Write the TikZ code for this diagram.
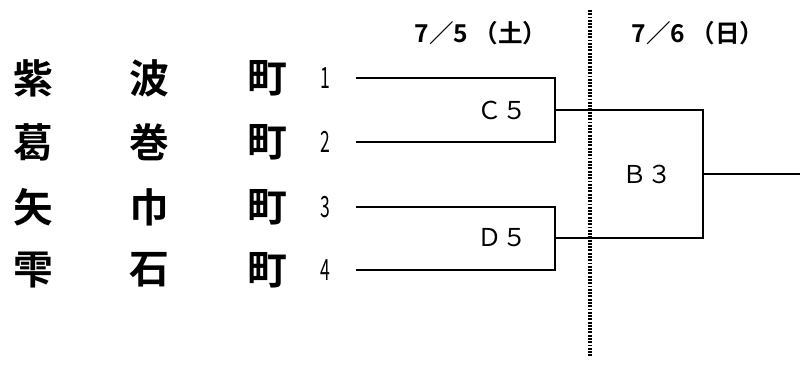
\documentclass[tikz,border=0pt]{standalone}
\usepackage{fontspec}
\newfontfamily\jpfont{Noto Sans CJK JP}
\newfontfamily\jpbold{Noto Sans CJK JP Bold}
\usetikzlibrary{positioning}
\tikzset{
  town/.style={font=\jpbold\fontsize{34}{34}\selectfont, inner sep=0pt},
  seed/.style={font=\jpfont\fontsize{25}{25}\selectfont, inner sep=0pt, xscale=0.6},
  game/.style={font=\jpfont\fontsize{21}{21}\selectfont, inner sep=0pt},
  day/.style={font=\jpbold\fontsize{21}{21}\selectfont, inner sep=0pt},
  bracket/.style={line width=2.3pt}
}
\begin{document}
\begin{tikzpicture}[x=0.03cm,y=-0.03cm]
\useasboundingbox (0,0) rectangle (800,365);
% dates
\node[day] (sat) at (481,33) {7／5 （土）};
\node[day] (sun) at (698,33) {7／6 （日）};
\draw[line width=2.6pt, dash pattern=on 1.6pt off 1.2pt] (590,10) coordinate (split top) -- (590,357) coordinate (split bottom);
% teams
\foreach \i/\a/\b/\y in {1/紫/波/78, 2/葛/巻/142, 3/矢/巾/207, 4/雫/石/270}{
  \node[town] (first\i) at (33,\y) {\a};
  \node[town] (second\i) at (149,\y) {\b};
  \node[town] (cho\i) at (267,\y) {町};
  \node[seed] (seed\i) at (325,\y) {\i};
  \coordinate (in\i) at (356,\y);
}
% first round (7/5)
\draw[bracket] (in1) -- (555,78) -- (555,142) -- (in2);
\draw[bracket] (in3) -- (555,207) -- (555,270) -- (in4);
\coordinate (c5) at (555,110);
\coordinate (d5) at (555,238);
\node[game, left=24pt of c5] (c5 label) {Ｃ５};
\node[game, left=24pt of d5] (d5 label) {Ｄ５};
% second round (7/6)
\draw[bracket] (c5) -- (703,110) -- (703,238) -- (d5);
\coordinate (b3) at (703,174);
\coordinate (winner) at (800,174);
\draw[bracket] (b3) -- (winner);
\node[game] (b3 label) at (647,174) {Ｂ３};
\end{tikzpicture}
\end{document}
